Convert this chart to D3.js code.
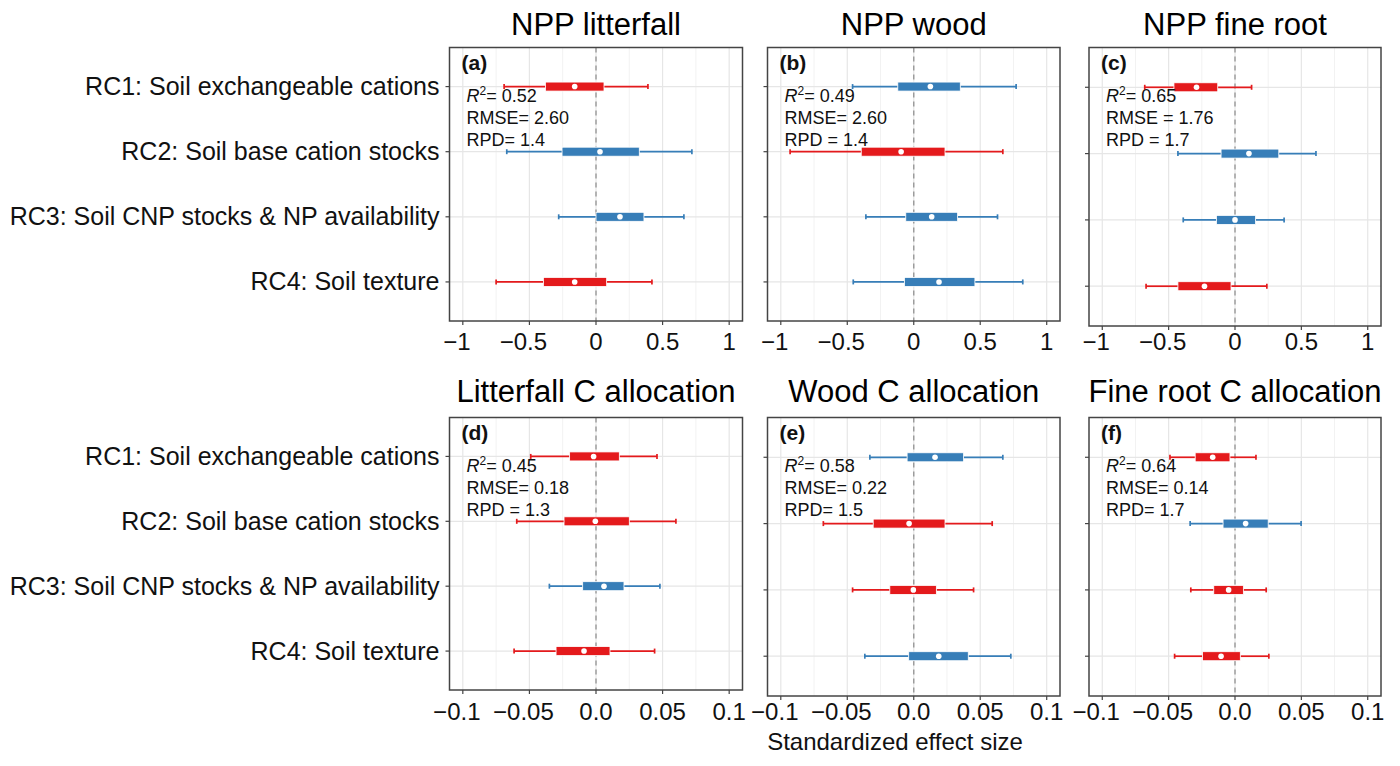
<!DOCTYPE html>
<html lang="en">
<head>
<meta charset="utf-8">
<script src="https://d3js.org/d3.v7.min.js"></script>
<style>
  body { margin: 0; background: #fff; }
  svg { font-family: "Liberation Sans", Arial, sans-serif; }
  .title { font-size: 31px; fill: #000; text-anchor: middle; }
  .cat { font-size: 25px; fill: #111; text-anchor: end; }
  .tick-label { font-size: 24px; fill: #111; text-anchor: middle; }
  .tag { font-size: 21px; font-weight: bold; fill: #111; }
  .stat { font-size: 18px; fill: #111; }
  .xlab { font-size: 24px; fill: #111; text-anchor: middle; }
</style>
</head>
<body>
<svg width="1400" height="766"></svg>
<script>
// ---- data ----
const categories = [
  'RC1: Soil exchangeable cations',
  'RC2: Soil base cation stocks',
  'RC3: Soil CNP stocks & NP availability',
  'RC4: Soil texture'
];
const panelTitles = ['NPP litterfall', 'NPP wood', 'NPP fine root',
  'Litterfall C allocation', 'Wood C allocation', 'Fine root C allocation'];
const panelTags = ['(a)', '(b)', '(c)', '(d)', '(e)', '(f)'];
const r2Values = ['0.52', '0.49', '0.65', '0.45', '0.58', '0.64'];
const rmseLabels = ['RMSE= 2.60', 'RMSE= 2.60', 'RMSE = 1.76', 'RMSE= 0.18', 'RMSE= 0.22', 'RMSE= 0.14'];
const rpdLabels = ['RPD= 1.4', 'RPD = 1.4', 'RPD = 1.7', 'RPD = 1.3', 'RPD= 1.5', 'RPD= 1.7'];

// [whisker low, q1, median, q3, whisker high] per category
const nppLitterfall = [[-0.69, -0.38, -0.16, 0.06, 0.39], [-0.67, -0.255, 0.03, 0.325, 0.72],
  [-0.28, 0.0, 0.18, 0.36, 0.66], [-0.75, -0.395, -0.16, 0.08, 0.42]];
const nppWood = [[-0.46, -0.12, 0.125, 0.35, 0.77], [-0.93, -0.395, -0.095, 0.235, 0.67],
  [-0.36, -0.06, 0.135, 0.33, 0.63], [-0.455, -0.07, 0.19, 0.46, 0.82]];
const nppFineRoot = [[-0.68, -0.46, -0.29, -0.13, 0.125], [-0.43, -0.105, 0.105, 0.33, 0.61],
  [-0.39, -0.14, 0.0, 0.155, 0.37], [-0.67, -0.43, -0.23, -0.03, 0.24]];
const litterfallAlloc = [[-0.049, -0.0198, -0.0018, 0.0175, 0.0458], [-0.0595, -0.024, -0.0005, 0.025, 0.06],
  [-0.035, -0.01, 0.006, 0.021, 0.048], [-0.0615, -0.03, -0.009, 0.0105, 0.044]];
const woodAlloc = [[-0.033, -0.005, 0.016, 0.0375, 0.067], [-0.068, -0.0305, -0.0035, 0.0235, 0.059],
  [-0.046, -0.018, -0.0003, 0.017, 0.045], [-0.0368, -0.0038, 0.0188, 0.041, 0.073]];
const fineRootAlloc = [[-0.049, -0.03, -0.0168, -0.0038, 0.0158], [-0.0338, -0.009, 0.008, 0.025, 0.0498],
  [-0.0333, -0.016, -0.0048, 0.0063, 0.0235], [-0.0455, -0.0245, -0.0105, 0.004, 0.0255]];

const directions = [
  ['neg', 'pos', 'pos', 'neg'],
  ['pos', 'neg', 'pos', 'pos'],
  ['neg', 'pos', 'pos', 'neg'],
  ['neg', 'neg', 'pos', 'neg'],
  ['pos', 'neg', 'neg', 'pos'],
  ['neg', 'pos', 'neg', 'neg']
];

const topDomain = [-1.1, 1.1];
const topTicks = [-1, -0.5, 0, 0.5, 1];
const topTickLabels = ['\u22121', '\u22120.5', '0', '0.5', '1'];
const bottomDomain = [-0.11, 0.11];
const bottomTicks = [-0.1, -0.05, 0, 0.05, 0.1];
const bottomTickLabels = ['\u22120.1', '\u22120.05', '0.0', '0.05', '0.1'];

const xLabel = 'Standardized effect size';

// ---- layout ----
const panelStats = [nppLitterfall, nppWood, nppFineRoot, litterfallAlloc, woodAlloc, fineRootAlloc];
const boxes = [
  { x0: 449.5, x1: 742.5, y0: 47.5, y1: 321, row: 0 },
  { x0: 767.5, x1: 1060, y0: 47.5, y1: 321, row: 0 },
  { x0: 1089, x1: 1381, y0: 47.5, y1: 326, row: 0 },
  { x0: 449.5, x1: 742.5, y0: 417.5, y1: 690, row: 1 },
  { x0: 767.5, x1: 1060, y0: 417.5, y1: 696, row: 1 },
  { x0: 1089, x1: 1381, y0: 417.5, y1: 696, row: 1 }
];
const color = d3.scaleOrdinal().domain(['neg', 'pos']).range(['#E41A1C', '#377EB8']);

const svg = d3.select('svg');

boxes.forEach((b, i) => {
  const top = b.row === 0;
  const domain = top ? topDomain : bottomDomain;
  const ticks = top ? topTicks : bottomTicks;
  const tickLabels = top ? topTickLabels : bottomTickLabels;
  const x = d3.scaleLinear().domain(domain).range([b.x0, b.x1]);
  const y = d3.scalePoint().domain(categories).range([b.y0, b.y1]).padding(0.6);
  const g = svg.append('g');

  // minor + major grid
  const minor = d3.pairs(ticks).map(p => (p[0] + p[1]) / 2);
  g.selectAll('.minor').data(minor).enter().append('line')
    .attr('x1', d => x(d)).attr('x2', d => x(d))
    .attr('y1', b.y0).attr('y2', b.y1)
    .attr('stroke', '#F2F2F2').attr('stroke-width', 1);
  g.selectAll('.major').data(ticks).enter().append('line')
    .attr('x1', d => x(d)).attr('x2', d => x(d))
    .attr('y1', b.y0).attr('y2', b.y1)
    .attr('stroke', '#E6E6E6').attr('stroke-width', 1.2);
  g.selectAll('.hgrid').data(categories).enter().append('line')
    .attr('x1', b.x0).attr('x2', b.x1)
    .attr('y1', d => y(d)).attr('y2', d => y(d))
    .attr('stroke', '#E6E6E6').attr('stroke-width', 1.2);

  // zero reference
  g.append('line')
    .attr('x1', x(0)).attr('x2', x(0))
    .attr('y1', b.y0).attr('y2', b.y1)
    .attr('stroke', '#999').attr('stroke-width', 1.4)
    .attr('stroke-dasharray', '5,4');

  // box plots
  const rows = panelStats[i].map((s, k) => ({ cat: categories[k], s: s, dir: directions[i][k] }));
  const bg = g.selectAll('.bp').data(rows).enter().append('g');
  bg.append('line')
    .attr('x1', d => x(d.s[0])).attr('x2', d => x(d.s[1]))
    .attr('y1', d => y(d.cat)).attr('y2', d => y(d.cat))
    .attr('stroke', d => color(d.dir)).attr('stroke-width', 1.7);
  bg.append('line')
    .attr('x1', d => x(d.s[3])).attr('x2', d => x(d.s[4]))
    .attr('y1', d => y(d.cat)).attr('y2', d => y(d.cat))
    .attr('stroke', d => color(d.dir)).attr('stroke-width', 1.7);
  [0, 4].forEach(j => {
    bg.append('line')
      .attr('x1', d => x(d.s[j])).attr('x2', d => x(d.s[j]))
      .attr('y1', d => y(d.cat) - 2.5).attr('y2', d => y(d.cat) + 2.5)
      .attr('stroke', d => color(d.dir)).attr('stroke-width', 1.7);
  });
  bg.append('rect')
    .attr('x', d => x(d.s[1])).attr('width', d => x(d.s[3]) - x(d.s[1]))
    .attr('y', d => y(d.cat) - 4.5).attr('height', 9)
    .attr('fill', d => color(d.dir))
    .attr('stroke', '#fff').attr('stroke-width', 0.8);
  bg.append('circle')
    .attr('cx', d => x(d.s[2])).attr('cy', d => y(d.cat))
    .attr('r', 2.8).attr('fill', '#fff');

  // panel border
  g.append('rect')
    .attr('x', b.x0).attr('y', b.y0)
    .attr('width', b.x1 - b.x0).attr('height', b.y1 - b.y0)
    .attr('fill', 'none').attr('stroke', '#444').attr('stroke-width', 1.5);

  // axis ticks
  g.selectAll('.xt').data(ticks).enter().append('line')
    .attr('x1', d => x(d)).attr('x2', d => x(d))
    .attr('y1', b.y1).attr('y2', b.y1 + 4)
    .attr('stroke', '#444').attr('stroke-width', 1.2);
  // negative labels sit a little left of their tick, as in the original
  g.selectAll('.xtl').data(ticks).enter().append('text')
    .attr('class', 'tick-label')
    .attr('x', d => x(d) + (d < 0 ? -6 : 0)).attr('y', top ? 350 : 720)
    .text((d, k) => tickLabels[k]);
  g.selectAll('.yt').data(categories).enter().append('line')
    .attr('x1', b.x0 - 4).attr('x2', b.x0)
    .attr('y1', d => y(d)).attr('y2', d => y(d))
    .attr('stroke', '#444').attr('stroke-width', 1.2);
  if (i % 3 === 0) {
    g.selectAll('.cat').data(categories).enter().append('text')
      .attr('class', 'cat')
      .attr('x', b.x0 - 10).attr('y', d => y(d) + 8.5)
      .text(d => d);
  }

  // title
  g.append('text').attr('class', 'title')
    .attr('x', (b.x0 + b.x1) / 2).attr('y', top ? 35 : 402)
    .text(panelTitles[i]);

  // annotations
  const ax = b.x0 + 12;
  g.append('text').attr('class', 'tag')
    .attr('x', ax).attr('y', b.y0 + 22).text(panelTags[i]);
  const r2 = g.append('text').attr('class', 'stat').attr('x', ax + 5).attr('y', b.y0 + 54);
  r2.append('tspan').attr('font-style', 'italic').text('R');
  r2.append('tspan').attr('font-size', '12px').attr('dy', -7).text('2');
  r2.append('tspan').attr('dy', 7).text('= ' + r2Values[i]);
  g.append('text').attr('class', 'stat')
    .attr('x', ax + 5).attr('y', b.y0 + 76.5).text(rmseLabels[i]);
  g.append('text').attr('class', 'stat')
    .attr('x', ax + 5).attr('y', b.y0 + 98).text(rpdLabels[i]);
});

svg.append('text').attr('class', 'xlab')
  .attr('x', 895).attr('y', 750).text(xLabel);
</script>
</body>
</html>
